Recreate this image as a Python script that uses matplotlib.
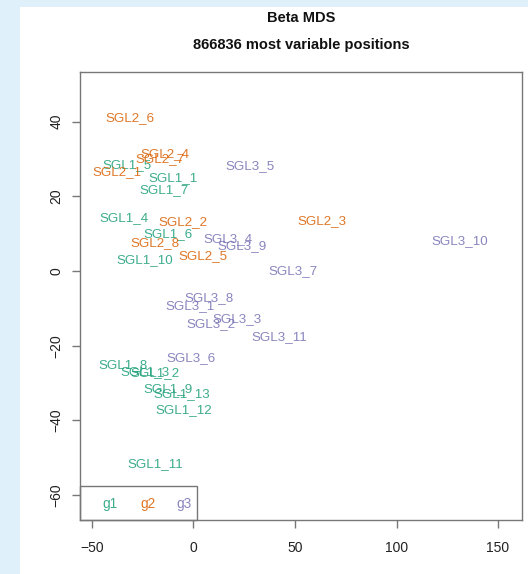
import matplotlib
matplotlib.use("Agg")
import matplotlib.pyplot as plt
from matplotlib.patches import Rectangle

plt.rcParams.update({
    "font.family": ["Liberation Sans", "DejaVu Sans"],
    "font.size": 9,
})

# sample labels and MDS coordinates
labels_g1 = ["SGL1_1", "SGL1_2", "SGL1_3", "SGL1_4", "SGL1_5", "SGL1_6", "SGL1_7",
             "SGL1_8", "SGL1_9", "SGL1_10", "SGL1_11", "SGL1_12", "SGL1_13"]
x_g1 = [-10.2, -19.0, -23.9, -34.1, -32.9, -12.4, -14.5, -34.6, -12.4, -23.9, -19.0, -4.7, -5.8]
y_g1 = [25.0, -27.4, -27.0, 14.3, 28.4, 9.9, 21.7, -25.2, -31.7, 2.9, -51.7, -37.2, -32.9]

labels_g2 = ["SGL2_1", "SGL2_2", "SGL2_3", "SGL2_4", "SGL2_5", "SGL2_6", "SGL2_7", "SGL2_8"]
x_g2 = [-37.8, -5.3, 63.4, -14.0, 4.8, -31.3, -16.5, -19.0]
y_g2 = [26.6, 13.2, 13.4, 31.3, 4.1, 40.9, 30.0, 7.4]

labels_g3 = ["SGL3_1", "SGL3_2", "SGL3_3", "SGL3_4", "SGL3_5", "SGL3_6", "SGL3_7",
             "SGL3_8", "SGL3_9", "SGL3_10", "SGL3_11"]
x_g3 = [-1.7, 8.6, 21.3, 17.1, 27.8, -1.2, 49.2, 7.8, 23.7, 131.0, 42.1]
y_g3 = [-9.4, -14.2, -12.9, 8.5, 28.1, -23.4, 0.0, -7.3, 6.7, 8.0, -17.6]

groups = ["g1", "g2", "g3"]
colors = ["#1B9E77", "#D95F02", "#7570B3"]  # Dark2

W, H = 528, 574
fig = plt.figure(figsize=(W / 100, H / 100), dpi=100)
fig.patch.set_facecolor("#e0f0fb")
# white page area behind the plot
bg = fig.add_axes([20 / W, 0, 1 - 20 / W, 1 - 7 / H], zorder=0)
bg.set_facecolor("white"); bg.axis("off")
bg.add_patch(Rectangle((0, 0), 1, 1, transform=bg.transAxes, facecolor="white", edgecolor="none"))

ax = fig.add_axes([80 / W, (H - 520) / H, 442 / W, 448 / H], zorder=2)
ax.set_facecolor("white")
for sp in ax.spines.values():
    sp.set_color("#777777"); sp.set_linewidth(1.0)

data = [(labels_g1, x_g1, y_g1), (labels_g2, x_g2, y_g2), (labels_g3, x_g3, y_g3)]
for (labs, xs, ys), col in zip(data, colors):
    for lab, xx, yy in zip(labs, xs, ys):
        ax.text(xx, yy, lab, color=col, alpha=0.85, fontsize=9.6, ha="center", va="center")

ax.set_xlim(-55.9, 161.8)
ax.set_ylim(-66.7, 53.3)
ax.set_xticks([-50, 0, 50, 100, 150])
ax.set_yticks([-60, -40, -20, 0, 20, 40])
ax.tick_params(colors="#777777", labelcolor="#222222", length=6, width=1.0, labelsize=10)
ax.tick_params(axis="x", pad=9)
ax.tick_params(axis="y", pad=6)
for t in ax.get_yticklabels():
    t.set_rotation(90); t.set_va("center")

# legend box (bottomleft, horizontal)
ax.add_patch(Rectangle((0, 0), 0.265, 0.0766, transform=ax.transAxes,
                       facecolor="none", edgecolor="#777777", lw=1.0, clip_on=False))
for g, col, xf in zip(groups, colors, [0.068, 0.153, 0.236]):
    ax.text(xf, 0.036, g, color=col, alpha=0.85, fontsize=9.8, ha="center", va="center",
            transform=ax.transAxes)

fig.text(301 / W, 1 - 18 / H, "Beta MDS", ha="center", va="center",
         fontsize=10.5, fontweight="bold", color="#111111", zorder=3)
fig.text(301 / W, 1 - 45 / H, "866836 most variable positions", ha="center", va="center",
         fontsize=10.5, fontweight="bold", color="#111111", zorder=3)

fig.savefig("out.png", dpi=100, facecolor=fig.get_facecolor())
